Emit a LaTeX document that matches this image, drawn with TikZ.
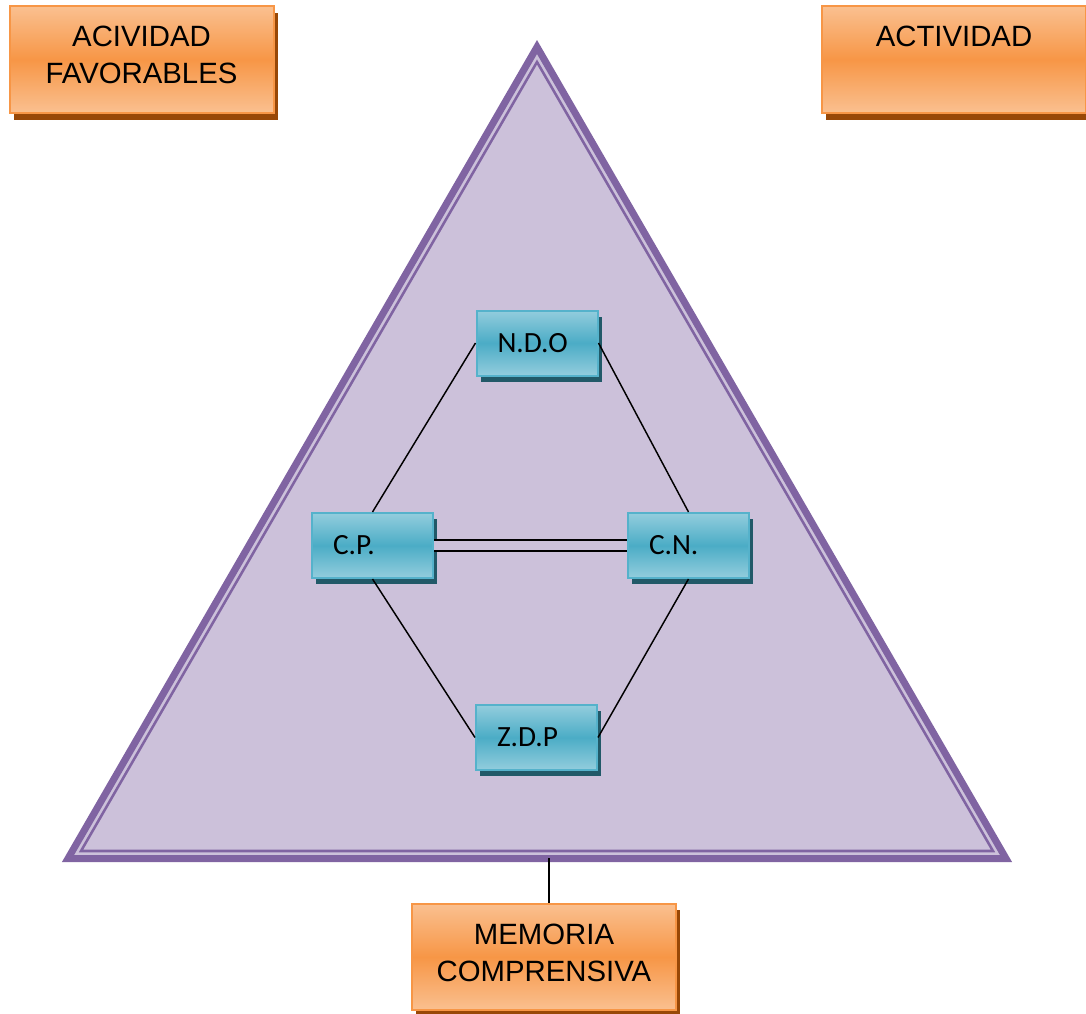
\documentclass[tikz,border=0pt]{standalone}
\usepackage{fontspec}
\setmainfont{Liberation Sans}
\newfontfamily\calfont{Carlito}
\usetikzlibrary{shadows}
\definecolor{orLight}{HTML}{FAC090}
\definecolor{orMid}{HTML}{F79646}
\definecolor{orShadow}{HTML}{984807}
\definecolor{blLight}{HTML}{93CDDD}
\definecolor{blMid}{HTML}{4BACC6}
\definecolor{blShadow}{HTML}{215968}
\definecolor{blBorder}{HTML}{55B2CB}
\definecolor{triFill}{HTML}{CCC1DA}
\definecolor{triLine}{HTML}{8064A2}
\begin{document}
\begin{tikzpicture}[x=0.75pt,y=-0.75pt,
  orbox/.style={rectangle, draw=orMid, line width=1.5pt, top color=orLight, bottom color=orLight, middle color=orMid,
    minimum width=198pt, minimum height=80pt, inner sep=0pt,
    general shadow={fill=orShadow, shadow xshift=3pt, shadow yshift=-5pt}},
  ortext/.style={font=\fontsize{22}{27.5}\selectfont, align=center, inner sep=0pt},
  blbox/.style={rectangle, draw=blBorder, line width=1.5pt, top color=blLight, bottom color=blLight, middle color=blMid,
    minimum width=90.75pt, minimum height=48.75pt, text width=59.25pt, inner xsep=15.75pt, inner ysep=0pt,
    align=left, font=\calfont\fontsize{22}{26}\selectfont,
    general shadow={fill=blShadow, shadow xshift=3pt, shadow yshift=-4.5pt}},
  link/.style={draw=black, line width=1.1pt}]
\useasboundingbox (0,0) rectangle (1086,1014);
\fill[white] (0,0) rectangle (1086,1014);

% triangle
\coordinate (apex) at (537,47);
\coordinate (bl) at (68,858.5);
\coordinate (br) at (1006,858.5);
\filldraw[fill=triFill, draw=triLine, line width=5.25pt, line join=miter] (apex) -- (bl) -- (br) -- cycle;
\draw[triLine, line width=1.9pt, line join=miter] (537,62) -- (81,851) -- (993,851) -- cycle;

% orange boxes
\node[orbox] (af) at (142,59.5) {};
\node[ortext] (aftext) at (141.5,55) {ACIVIDAD\\FAVORABLES};
\node[orbox] (act) at (954,59.5) {};
\node[ortext] (acttext) at (954,36) {ACTIVIDAD};
\node[orbox] (mem) at (544,957) {};
\node[ortext] (memtext) at (544,953) {MEMORIA\\COMPRENSIVA};

% blue boxes
\node[blbox] (ndo) at (537,343) {N.D.O};
\node[blbox] (cp) at (372.5,545.5) {C.P.};
\node[blbox] (cn) at (688.5,545.5) {C.N.};
\node[blbox] (zdp) at (536.5,737.5) {Z.D.P};

% connectors
\draw[link] (ndo.west) -- (cp.north);
\draw[link] (ndo.east) -- (cn.north);
\draw[link] (cp.south) -- (zdp.west);
\draw[link] (cn.south) -- (zdp.east);
\draw[link, double=triFill, double distance=7pt] (cp.east) -- (cn.west);
\coordinate (tb) at (549,858);
\draw[link] (tb) -- (tb |- mem.north);
\end{tikzpicture}
\end{document}
